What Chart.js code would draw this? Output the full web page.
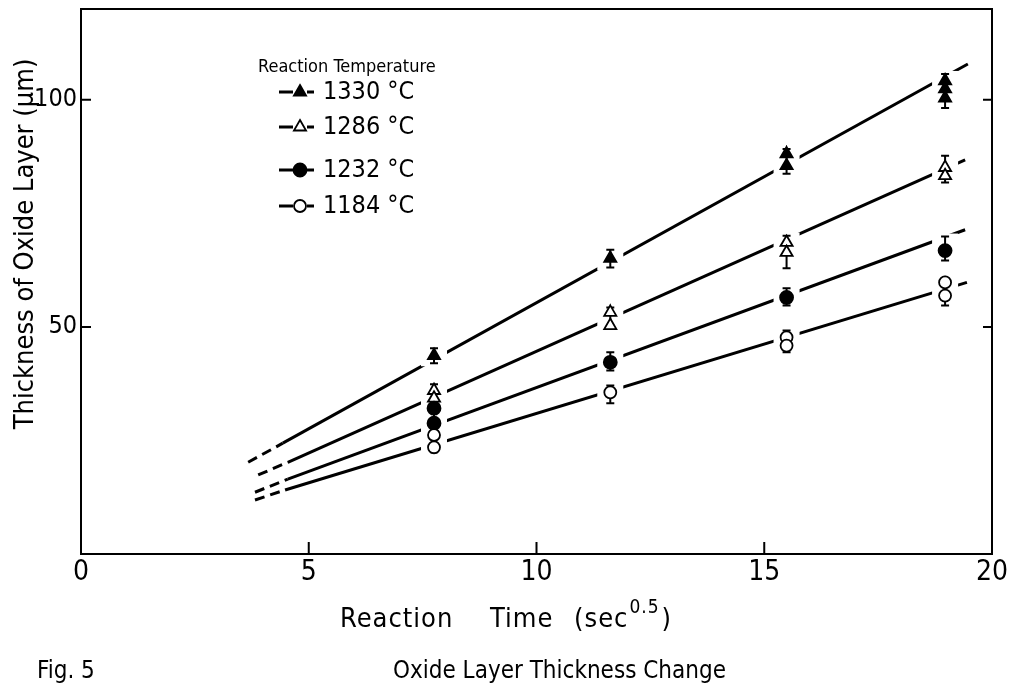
<!DOCTYPE html>
<html>
<head>
<meta charset="utf-8">
<script src="https://cdn.jsdelivr.net/npm/chart.js@4.4.0/dist/chart.umd.min.js"></script>
<style>
html, body { margin: 0; padding: 0; background: #fff; }
#wrap { width: 1011px; height: 698px; }
</style>
</head>
<body>
<div id="wrap"><canvas id="oxideChart" width="1011" height="698"></canvas></div>
<script>
// reaction times (sec^0.5) where the samples were taken
var times = [7.75, 11.62, 15.49, 18.97];

// measured thickness (um) -- repeated x = several samples at one time
var t1330X = [7.75, 11.62, 15.49, 15.49, 18.97, 18.97, 18.97];
var t1330Y = [43.7, 65.1, 88.1, 85.5, 104.2, 102.4, 100.4];
var t1286X = [7.75, 7.75, 11.62, 11.62, 15.49, 15.49, 18.97, 18.97];
var t1286Y = [36.0, 34.3, 53.2, 50.3, 68.6, 66.4, 85.1, 83.3];
var t1232X = [7.75, 7.75, 11.62, 15.49, 18.97];
var t1232Y = [32.1, 28.8, 42.2, 56.5, 66.8];
var t1184X = [7.75, 7.75, 11.62, 15.49, 15.49, 18.97, 18.97];
var t1184Y = [26.2, 23.5, 35.6, 47.7, 45.9, 59.8, 56.9];

// error bars [low, high] at each time
var t1330Err = [[42.0, 45.3], [63.1, 67.0], [83.7, 89.2], [98.2, 105.7]];
var t1286Err = [[33.4, 37.4], [49.7, 54.3], [62.9, 70.1], [81.8, 87.7]];
var t1232Err = [[27.9, 32.7], [40.4, 44.4], [54.7, 58.5], [64.6, 69.9]];
var t1184Err = [[22.4, 26.8], [33.2, 37.1], [44.4, 49.2], [54.7, 60.7]];

// fitted lines: dashed start, solid start, end
var fit1330X = [3.67, 4.43, 19.47];
var fit1330Y = [20.2, 24.4, 107.9];
var fit1286X = [3.89, 4.54, 19.41];
var fit1286Y = [17.4, 20.2, 86.8];
var fit1232X = [3.82, 4.54, 19.41];
var fit1232Y = [13.6, 16.5, 71.4];
var fit1184X = [3.82, 4.48, 19.45];
var fit1184Y = [11.9, 14.1, 59.8];

var xTicks = [0, 5, 10, 15, 20];
var yTicks = [50, 100];
var legendLabels = ['1330 °C', '1286 °C', '1232 °C', '1184 °C'];

var FONT = '"Liberation Sans Narrow", "DejaVu Sans Condensed", "Liberation Sans", sans-serif';

function pts(xs, ys) {
    return xs.map(function(x, i) { return { x: x, y: ys[i] }; });
}

function fitSet(xs, ys) {
    return {
        data: pts(xs, ys),
        showLine: true,
        borderColor: '#000',
        borderWidth: 3,
        pointRadius: 0,
        fill: false,
        segment: {
            borderDash: function(c) { return c.p0DataIndex === 0 ? [10, 6] : undefined; }
        }
    };
}

function markSet(xs, ys, errs, style, filled, r) {
    return {
        data: pts(xs, ys),
        showLine: false,
        pointStyle: style,
        pointRadius: r,
        pointBackgroundColor: filled ? '#000' : '#fff',
        pointBorderColor: '#000',
        pointBorderWidth: 1.8,
        errs: errs
    };
}

var markers = [
    { style: 'triangle', filled: true, r: 7 },
    { style: 'triangle', filled: false, r: 7 },
    { style: 'circle', filled: true, r: 6.5 },
    { style: 'circle', filled: false, r: 6 }
];

// gaps in the fitted lines round each sample, error bars, then the markers on top
var errorBars = {
    id: 'errorBars',
    afterDatasetsDraw: function(chart) {
        var ctx = chart.ctx, xs = chart.scales.x, ys = chart.scales.y;
        var sets = [];
        chart.data.datasets.forEach(function(ds, i) { if (ds.errs) sets.push(i); });
        ctx.save();
        ctx.fillStyle = '#fff';
        sets.forEach(function(i) {
            chart.data.datasets[i].errs.forEach(function(e, k) {
                var px = xs.getPixelForValue(times[k]);
                var top = ys.getPixelForValue(e[1]), bot = ys.getPixelForValue(e[0]);
                ctx.fillRect(px - 13, top - 3, 26, bot - top + 6);
            });
        });
        ctx.strokeStyle = '#000';
        ctx.lineWidth = 2;
        ctx.beginPath();
        sets.forEach(function(i) {
            chart.data.datasets[i].errs.forEach(function(e, k) {
                var px = xs.getPixelForValue(times[k]);
                var top = ys.getPixelForValue(e[1]), bot = ys.getPixelForValue(e[0]);
                ctx.moveTo(px, top); ctx.lineTo(px, bot);
                ctx.moveTo(px - 4, top); ctx.lineTo(px + 4, top);
                ctx.moveTo(px - 4, bot); ctx.lineTo(px + 4, bot);
            });
        });
        ctx.stroke();
        sets.forEach(function(i) {
            chart.getDatasetMeta(i).data.forEach(function(el) { el.draw(ctx, chart.chartArea); });
        });
        ctx.restore();
    }
};

// frame, inward ticks, titles, legend, caption
var decor = {
    id: 'decor',
    afterDraw: function(chart) {
        var ctx = chart.ctx, a = chart.chartArea;
        var xs = chart.scales.x, ys = chart.scales.y;
        ctx.save();
        ctx.strokeStyle = '#000';
        ctx.lineWidth = 2;
        ctx.strokeRect(a.left, a.top, a.right - a.left, a.bottom - a.top);
        ctx.beginPath();
        yTicks.forEach(function(v) {
            var py = ys.getPixelForValue(v);
            ctx.moveTo(a.left, py); ctx.lineTo(a.left + 10, py);
            ctx.moveTo(a.right, py); ctx.lineTo(a.right - 9, py);
        });
        xTicks.slice(1, 4).forEach(function(v) {
            var px = xs.getPixelForValue(v);
            ctx.moveTo(px, a.bottom); ctx.lineTo(px, a.bottom - 12);
        });
        ctx.stroke();

        ctx.fillStyle = '#000';
        ctx.textBaseline = 'middle';

        // y title
        ctx.save();
        ctx.translate(26, 244);
        ctx.rotate(-Math.PI / 2);
        ctx.textAlign = 'center';
        ctx.font = '27px ' + FONT;
        ctx.fillText('Thickness of Oxide Layer (\u03bcm)', 0, 0);
        ctx.restore();

        // x title
        ctx.textAlign = 'left';
        ctx.letterSpacing = '1px';
        ctx.font = '27px ' + FONT;
        ctx.fillText('Reaction', 340, 620);
        ctx.fillText('Time', 490, 620);
        ctx.fillText('(sec', 574, 620);
        var w = ctx.measureText('(sec').width;
        ctx.font = '19px ' + FONT;
        ctx.fillText('0.5', 574 + w + 1, 608);
        var w2 = ctx.measureText('0.5').width;
        ctx.font = '27px ' + FONT;
        ctx.fillText(')', 574 + w + w2 + 3, 620);
        ctx.letterSpacing = '0px';

        // caption
        ctx.font = '24px ' + FONT;
        ctx.fillText('Fig. 5', 37, 672);
        ctx.fillText('Oxide Layer Thickness Change', 393, 672);

        // legend
        ctx.font = '18px ' + FONT;
        ctx.fillText('Reaction Temperature', 258, 67);
        var rows = [92, 127, 170, 206];
        ctx.font = '25px ' + FONT;
        rows.forEach(function(ry, i) {
            var m = markers[i];
            ctx.strokeStyle = '#000';
            ctx.lineWidth = 3;
            ctx.beginPath();
            ctx.moveTo(279, ry); ctx.lineTo(293, ry);
            ctx.moveTo(307, ry); ctx.lineTo(314, ry);
            ctx.stroke();
            ctx.fillStyle = m.filled ? '#000' : '#fff';
            ctx.lineWidth = 1.8;
            Chart.helpers.drawPoint(ctx, { pointStyle: m.style, radius: m.r, rotation: 0, borderWidth: 1.8 }, 300, ry);
            ctx.fillStyle = '#000';
            ctx.fillText(legendLabels[i], 323, ry);
        });
        ctx.restore();
    }
};

var datasets = [
    fitSet(fit1330X, fit1330Y),
    fitSet(fit1286X, fit1286Y),
    fitSet(fit1232X, fit1232Y),
    fitSet(fit1184X, fit1184Y),
    markSet(t1330X, t1330Y, t1330Err, markers[0].style, markers[0].filled, markers[0].r),
    markSet(t1286X, t1286Y, t1286Err, markers[1].style, markers[1].filled, markers[1].r),
    markSet(t1232X, t1232Y, t1232Err, markers[2].style, markers[2].filled, markers[2].r),
    markSet(t1184X, t1184Y, t1184Err, markers[3].style, markers[3].filled, markers[3].r)
];

new Chart(document.getElementById('oxideChart'), {
    type: 'scatter',
    data: { datasets: datasets },
    options: {
        responsive: false,
        animation: false,
        devicePixelRatio: 1,
        layout: { padding: { left: 0, right: 19, top: 9, bottom: 0 } },
        plugins: { legend: { display: false }, tooltip: { enabled: false } },
        scales: {
            x: {
                type: 'linear', min: 0, max: 20,
                afterFit: function(s) { s.height = 144; s.paddingLeft = 0; s.paddingRight = 0; },
                afterBuildTicks: function(s) { s.ticks = xTicks.map(function(v) { return { value: v }; }); },
                ticks: { font: { family: FONT, size: 28 }, color: '#000', padding: 2, maxRotation: 0 },
                grid: { display: false, drawTicks: false },
                border: { display: false }
            },
            y: {
                type: 'linear', min: 0, max: 120,
                afterFit: function(s) { s.width = 81; s.paddingTop = 0; s.paddingBottom = 0; },
                afterBuildTicks: function(s) { s.ticks = yTicks.map(function(v) { return { value: v }; }); },
                ticks: { font: { family: FONT, size: 25 }, color: '#000', padding: 4 },
                grid: { display: false, drawTicks: false },
                border: { display: false }
            }
        }
    },
    plugins: [errorBars, decor]
});
</script>
</body>
</html>
